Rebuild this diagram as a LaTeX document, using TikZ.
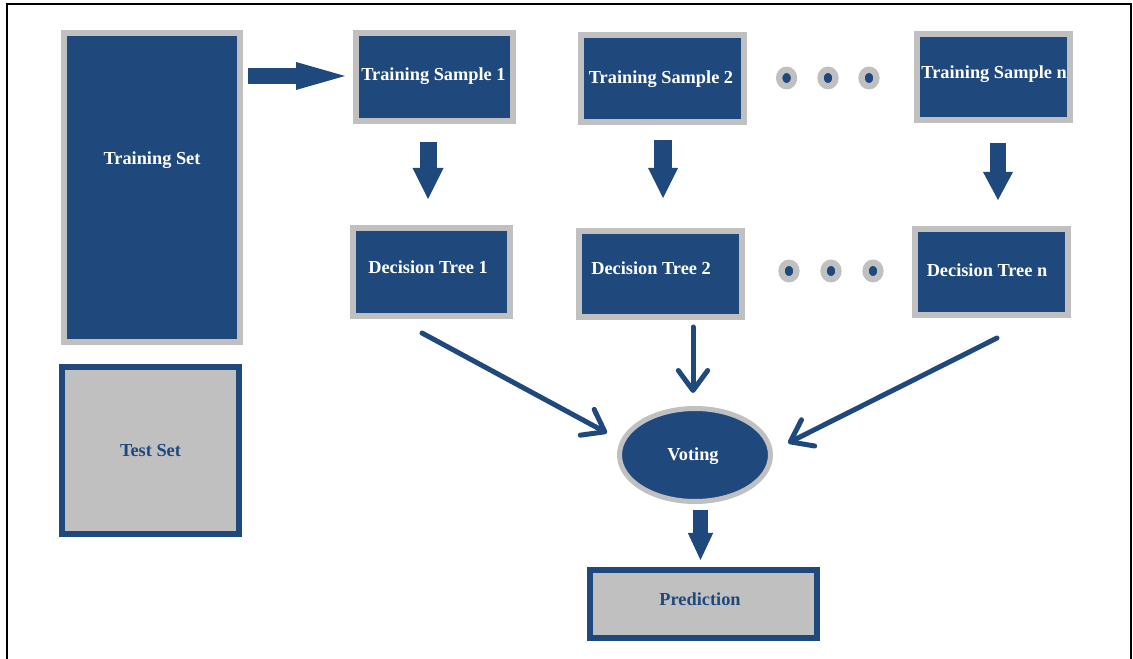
\documentclass[tikz,border=0pt]{standalone}
\usepackage{fontspec}
\setmainfont{Liberation Serif}
\usetikzlibrary{shapes.geometric,arrows.meta,calc}
\definecolor{navy}{RGB}{31,73,125}
\definecolor{lgray}{RGB}{192,192,192}
\begin{document}
\begin{tikzpicture}[x=0.75pt,y=-0.75pt,
  lbl/.style={font=\fontsize{13.75}{16}\selectfont\bfseries, text height=9.05pt, text depth=0pt, inner sep=0pt},
  wlbl/.style={lbl, text=white},
  blbl/.style={lbl, text=navy},
  darkbox/.style={draw=lgray, fill=navy, line width=4.5pt, inner sep=0pt},
  lightbox/.style={draw=navy, fill=lgray, line width=4.5pt, inner sep=0pt},
  dotmark/.style={ellipse, draw=lgray, fill=navy, line width=4.7pt, minimum width=11.2pt, minimum height=12.4pt, inner sep=0pt},
  blockarrow/.style n args={3}{draw=navy, line width=#1, -{Triangle[length=#2, width=#3, line width=0pt]}},
  thinarrow/.style={draw=navy, line width=3.75pt, line cap=round, -{Straight Barb[length=15pt, width=22pt, round]}}
]
\useasboundingbox (0,0) rectangle (1133,659);
\fill[white] (0,0) rectangle (1133,659);
% frame
\draw[line width=1.5pt] (6.5,662) -- (6.5,4) -- (1131,4) -- (1131,662);

% boxes
\node[darkbox, minimum width=132pt, minimum height=231.75pt,
      label={[wlbl, yshift=22.1pt]center:Training Set}] (ts) at (152,188) {};
\node[darkbox, minimum width=117.75pt, minimum height=66pt,
      label={[wlbl, xshift=-0.8pt, yshift=2.25pt]center:Training Sample 1}] (s1) at (434.5,77) {};
\node[darkbox, minimum width=122.6pt, minimum height=65.25pt,
      label={[wlbl, xshift=-1.3pt, yshift=1.1pt]center:Training Sample 2}] (s2) at (662.75,78.5) {};
\node[darkbox, minimum width=115.3pt, minimum height=64.3pt,
      label={[wlbl, xshift=0.4pt, yshift=3.6pt]center:Training Sample n}] (sn) at (993.6,76.85) {};
\node[darkbox, minimum width=117.75pt, minimum height=66pt,
      label={[wlbl, xshift=-2.6pt, yshift=3.75pt]center:Decision Tree 1}] (d1) at (431.5,272) {};
\node[darkbox, minimum width=122.25pt, minimum height=64.5pt,
      label={[wlbl, xshift=-7.1pt, yshift=4.5pt]center:Decision Tree 2}] (d2) at (660.5,274) {};
\node[darkbox, minimum width=114.75pt, minimum height=64.3pt,
      label={[wlbl, xshift=-3.15pt, yshift=1.4pt]center:Decision Tree n}] (dn) at (991.2,271.85) {};
\node[lightbox, minimum width=132.75pt, minimum height=125.25pt,
      label={[blbl]center:Test Set}] (test) at (150.5,450.5) {};
\node[ellipse, draw=lgray, fill=navy, line width=3.75pt, inner sep=0pt,
      minimum width=113.25pt, minimum height=69.75pt,
      label={[wlbl, xshift=-1.5pt, yshift=0.75pt]center:Voting}] (vote) at (695,455) {};
\node[lightbox, minimum width=170.25pt, minimum height=51pt,
      label={[blbl, xshift=-2.6pt, yshift=3.75pt]center:Prediction}] (pred) at (703.5,604) {};

% dots
\node[dotmark] (ta) at (786.6,78) {};
\node[dotmark] (tb) at (828,78) {};
\node[dotmark] (tc) at (869,78) {};
\node[dotmark] (ba) at (789,271) {};
\node[dotmark] (bb) at (831,271) {};
\node[dotmark] (bc) at (873,271) {};

% block arrows
\draw[blockarrow={12pt}{36.75pt}{21pt}, shorten <=3.75pt, shorten >=6pt]
  ($(s1.west -| ts.east)+(0,-1)$) -- ($(s1.west)+(0,-1)$);
\draw[blockarrow={12.75pt}{23.25pt}{23.25pt}, shorten <=13.5pt, shorten >=19.5pt]
  ($(s1.south)+(-6.5,0)$) -- ($(d1.north)+(-3.5,0)$);
\draw[blockarrow={13.1pt}{22.5pt}{22.5pt}, shorten <=11.25pt, shorten >=22.5pt]
  ($(s2.south)+(0.25,0)$) -- ($(d2.north)+(2.5,0)$);
\draw[blockarrow={12.4pt}{21pt}{22.5pt}, shorten <=15.2pt, shorten >=19.5pt]
  ($(sn.south)+(4.4,0)$) -- ($(dn.north)+(6.8,0)$);
\draw[blockarrow={11.5pt}{20.25pt}{19pt}, shorten <=4.5pt, shorten >=5.25pt]
  ($(vote.south)+(5.5,0)$) -- ($(pred.north)+(-3,0)$);

% thin arrows
\draw[thinarrow] ($(d1.south)+(-9.5,14)$) -- ($(vote.center)+(-88,-22)$);
\draw[thinarrow] ($(vote.north |- d2.south)+(-2,7)$) -- ($(vote.north)+(-2,-13)$);
\draw[thinarrow] ($(dn.south)+(5.8,20.3)$) -- ($(vote.center)+(93,-12)$);
\end{tikzpicture}
\end{document}
